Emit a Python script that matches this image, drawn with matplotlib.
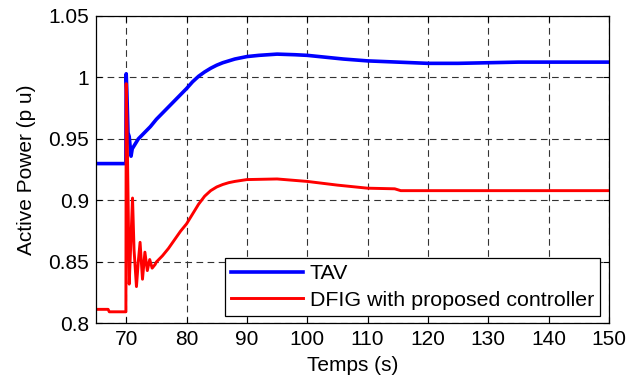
import matplotlib
matplotlib.use("Agg")
import matplotlib.pyplot as plt
from matplotlib.legend_handler import HandlerLine2D
from matplotlib.lines import Line2D

plt.rcParams['font.family'] = ['Liberation Sans', 'DejaVu Sans']

# TAV series (time s, active power p.u.)
tav_t = [65, 69.95, 70.0, 70.1, 70.3, 70.5, 70.8, 71.0, 72, 73, 74, 75, 76, 77, 78, 79, 80,
         81, 82, 83, 84, 85, 86, 87, 88, 90, 92, 95, 98, 100, 103, 106, 110, 115, 120,
         125, 130, 135, 140, 150]
tav_p = [0.930, 0.930, 1.003, 0.990, 0.955, 0.952, 0.936, 0.942, 0.950, 0.955, 0.960, 0.966,
         0.971, 0.976, 0.981, 0.986, 0.991, 0.9965, 1.001, 1.0045, 1.0075, 1.010, 1.012, 1.0135,
         1.015, 1.017, 1.018, 1.019, 1.0185, 1.018, 1.0165, 1.015, 1.0135, 1.0125, 1.0115,
         1.0115, 1.012, 1.0125, 1.0125, 1.0125]

# DFIG with proposed controller
dfig_t = [65, 67, 67.2, 69.95, 70.0, 70.15, 70.5, 70.8, 71.05, 71.3, 71.7, 72.0, 72.3, 72.7,
          73.1, 73.5, 73.9, 74.3, 74.8, 75, 76, 77, 78, 79, 80, 81, 82, 83, 84, 85, 86, 87, 88,
          90, 95, 100, 105, 110, 114.5, 115.5, 150]
dfig_p = [0.8115, 0.8115, 0.8095, 0.8095, 0.995, 0.960, 0.832, 0.870, 0.902, 0.860, 0.830,
          0.850, 0.866, 0.836, 0.858, 0.843, 0.852, 0.845, 0.848, 0.850, 0.855, 0.861, 0.868,
          0.875, 0.881, 0.889, 0.897, 0.9035, 0.908, 0.911, 0.913, 0.9145, 0.9155, 0.917, 0.9175,
          0.9155, 0.9125, 0.910, 0.9095, 0.908, 0.908]

xticks = [70, 80, 90, 100, 110, 120, 130, 140, 150]
xticklabels = ['70', '80', '90', '100', '110', '120', '130', '140', '150']
yticks = [0.8, 0.85, 0.9, 0.95, 1.0, 1.05]
yticklabels = ['0.8', '0.85', '0.9', '0.95', '1', '1.05']


class ShiftedLineHandler(HandlerLine2D):
    """Legend line that leaves an empty margin on its left, like MATLAB legends."""
    def __init__(self, shift, **kw):
        super().__init__(**kw)
        self.shift = shift

    def create_artists(self, legend, orig_handle, xdescent, ydescent, width, height,
                       fontsize, trans):
        arts = super().create_artists(legend, orig_handle, xdescent, ydescent, width,
                                      height, fontsize, trans)
        for a in arts:
            if isinstance(a, Line2D):
                xd = list(a.get_xdata())
                if len(xd) == 2:
                    a.set_xdata([xd[0] + self.shift, xd[1]])
        return arts


fig = plt.figure(figsize=(6.41, 3.78), dpi=100)
ax = fig.add_axes([0.1498, 0.1442, 0.8002, 0.8135])

l1, = ax.plot(tav_t, tav_p, color='#0000ff', lw=2.6, label='TAV', solid_joinstyle='round')
l2, = ax.plot(dfig_t, dfig_p, color='#ff0000', lw=2.1, label='DFIG with proposed controller',
              solid_joinstyle='round')

ax.set_xlim(65, 150)
ax.set_ylim(0.8, 1.05)
ax.set_xticks(xticks)
ax.set_xticklabels(xticklabels)
ax.set_yticks(yticks)
ax.set_yticklabels(yticklabels)
ax.tick_params(direction='in', length=4, width=0.8, labelsize=15, top=True, right=True,
               labeltop=False, labelright=False, pad=5)
ax.grid(True, color='#333333', linestyle=(0, (6, 4)), linewidth=0.8)
for s in ax.spines.values():
    s.set_linewidth(0.9)
    s.set_color('black')

ax.set_xlabel('Temps (s)', fontsize=15, labelpad=5)
ax.set_ylabel('Active Power (p u)', fontsize=15, labelpad=9)

h = ShiftedLineHandler(shift=7.6)
leg = ax.legend(loc='lower right', bbox_to_anchor=(0.983, 0.024), borderaxespad=0,
                fontsize=15.4, handlelength=3.35, handletextpad=0.3, labelspacing=0.34,
                fancybox=False, framealpha=1, edgecolor='black', borderpad=0.3,
                handler_map={l1: h, l2: h})
leg.get_frame().set_linewidth(0.9)

fig.savefig('out.png', dpi=100)
